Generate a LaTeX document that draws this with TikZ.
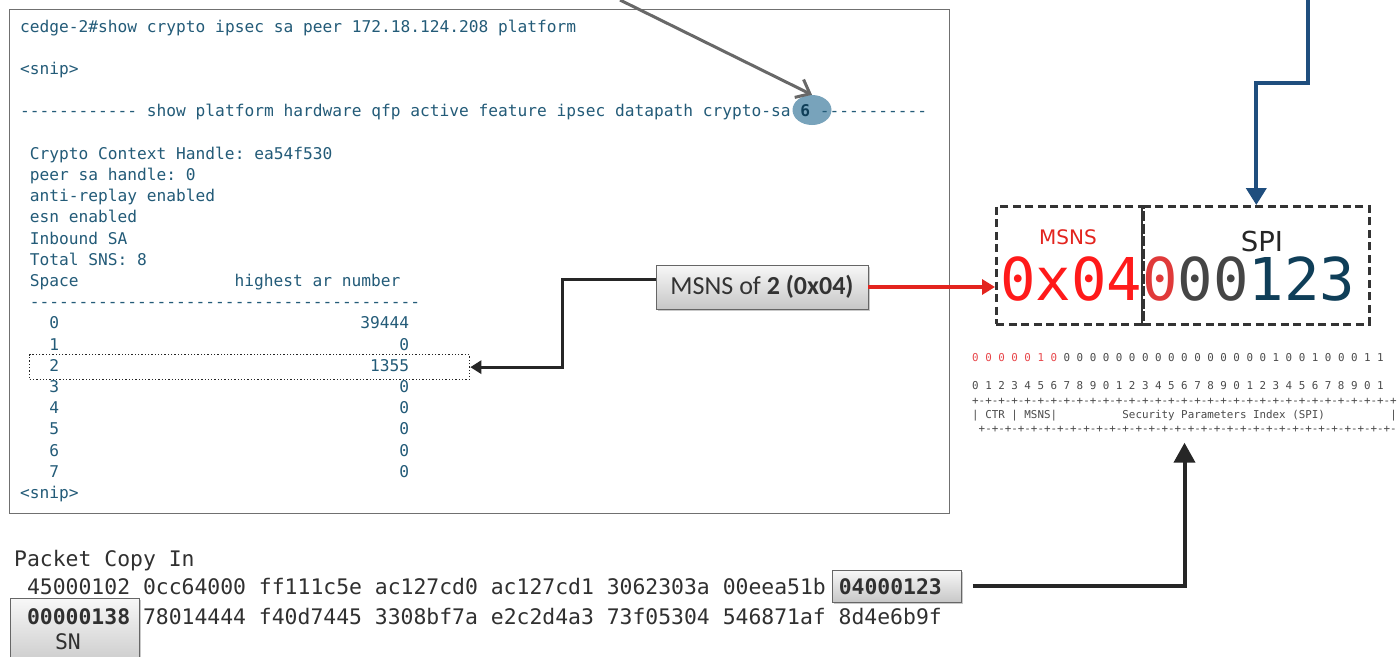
\documentclass[tikz,border=0pt]{standalone}
\usepackage{fontspec}
\setmonofont{DejaVu Sans Mono}
\newfontfamily\calibrifont{Carlito}
\newfontfamily\dvsans{DejaVu Sans}
\usetikzlibrary{arrows.meta,shadows,shapes.geometric}

\definecolor{termtext}{HTML}{235B78}
\definecolor{termframe}{HTML}{707070}
\definecolor{hlfill}{HTML}{78A3BB}
\definecolor{ptrgray}{HTML}{686868}
\definecolor{ptrblue}{HTML}{1F4E7E}
\definecolor{ptrred}{HTML}{E3241E}
\definecolor{ptrblack}{HTML}{262626}
\definecolor{hexred}{HTML}{FF1A1A}
\definecolor{hexredb}{HTML}{E03A3A}
\definecolor{hexgray}{HTML}{454545}
\definecolor{hexnavy}{HTML}{0F3E58}
\definecolor{bitgray}{HTML}{4A4A4A}
\definecolor{bitred}{HTML}{E8464A}
\definecolor{pkttext}{HTML}{303030}

\tikzset{
  term/.style={anchor=base west, inner sep=0pt, text=termtext,
    font=\ttfamily\fontsize{16.2}{19}\selectfont},
  termr/.style={term, anchor=base east},
  bits/.style={anchor=base west, inner sep=0pt, text=bitgray,
    font=\ttfamily\fontsize{10.85}{13}\selectfont},
  pkt/.style={anchor=base west, inner sep=0pt, text=pkttext,
    font=\ttfamily\fontsize{21.4}{25}\selectfont},
  greybox/.style={draw=black!60, line width=0.8pt, top color=black!3, bottom color=black!22,
    drop shadow={shadow xshift=1.5pt, shadow yshift=-1.5pt, opacity=0.35, fill=black!60}},
  fieldbox/.style={draw=black!80, line width=2.6pt, dash pattern=on 8pt off 4.5pt,
    inner sep=0pt, anchor=north west, minimum height=118pt},
  ptr/.style={line width=3pt, ptrblack, -{Triangle[length=11pt,width=13pt]}},
}

\begin{document}
\begin{tikzpicture}[x=1pt,y=-1pt]
\useasboundingbox[fill=white] (0,0) rectangle (1400,656);

% console output frame
\node[draw=termframe, line width=1.4pt, minimum width=940pt, minimum height=504pt,
  anchor=north west, inner sep=0pt] (term) at (9,9) {};

% highlight behind the SA number
\node[ellipse, fill=hlfill, minimum width=39pt, minimum height=30pt, inner sep=0pt] (hl) at (812,110) {};

% console text
\node[term] (t0) at (20,32) {cedge-2\#show crypto ipsec sa peer 172.18.124.208 platform};
\node[term] (t2) at (20,74.4) {<snip>};
\node[term] (t4) at (20,116.8) {------------ show platform hardware qfp active feature ipsec datapath crypto-sa \textcolor{hexnavy}{\textbf{6}} -----------};
\node[term] (t6) at (29.75,159.2) {Crypto Context Handle: ea54f530};
\node[term] (t7) at (29.75,180.4) {peer sa handle: 0};
\node[term] (t8) at (29.75,201.6) {anti-replay enabled};
\node[term] (t9) at (29.75,222.8) {esn enabled};
\node[term] (t10) at (29.75,244) {Inbound SA};
\node[term] (t11) at (29.75,265.2) {Total SNS: 8};
\node[term] (t12a) at (29.75,286.4) {Space};
\node[term] (t12b) at (234.5,286.4) {highest ar number};
\node[term] (t13) at (29.75,307.6) {----------------------------------------};
\node[term] (s0) at (49.25,328.8) {0};  \node[termr] (v0) at (409.25,328.8) {39444};
\node[term] (s1) at (49.25,350)   {1};  \node[termr] (v1) at (409.25,350)   {0};
\node[term] (s2) at (49.25,371.2) {2};  \node[termr] (v2) at (409.25,371.2) {1355};
\node[term] (s3) at (49.25,392.4) {3};  \node[termr] (v3) at (409.25,392.4) {0};
\node[term] (s4) at (49.25,413.6) {4};  \node[termr] (v4) at (409.25,413.6) {0};
\node[term] (s5) at (49.25,434.8) {5};  \node[termr] (v5) at (409.25,434.8) {0};
\node[term] (s6) at (49.25,456)   {6};  \node[termr] (v6) at (409.25,456)   {0};
\node[term] (s7) at (49.25,477.2) {7};  \node[termr] (v7) at (409.25,477.2) {0};
\node[term] (t22) at (20,498.4) {<snip>};

% dotted frame round the space-2 row
\node[draw=ptrblack, dotted, line width=1.3pt, minimum width=440pt, minimum height=25pt,
  anchor=north west, inner sep=0pt] (rowbox) at (29,354) {};

% pointer coming in from above to the SA number
\coordinate (gtop) at (620,0);
\draw[line width=3pt, ptrgray, -{Straight Barb[length=12pt,width=20pt]}] (gtop) -- (hl.north);

% label box
\node[greybox, minimum width=212pt, minimum height=44pt, inner sep=0pt,
  font=\calibrifont\fontsize{26}{30}\selectfont, text=black!80] (msnslbl) at (762,287)
  {MSNS of \textbf{2 (0x04)}};

% SPI value boxes
\node[fieldbox, minimum width=147pt] (msnsbox) at (995,205) {};
\node[fieldbox, minimum width=226pt] (spibox) at (1142,205) {};
\draw[line width=2pt, black!80] (spibox.north west) -- (spibox.south west);

\node[font=\dvsans\fontsize{20}{24}\selectfont, text=ptrred, anchor=base, inner sep=0pt] (msnsname) at (1068,244) {MSNS};
\node[font=\dvsans\fontsize{27.5}{30}\selectfont, text=black!85, anchor=base, inner sep=0pt] (spiname) at (1262,251) {SPI};
\node[anchor=base west, inner sep=0pt, font=\ttfamily\fontsize{59}{64}\selectfont] (hexval) at (1000,300)
  {\textcolor{hexred}{0x04}\textcolor{hexredb}{0}\textcolor{hexgray}{00}\textcolor{hexnavy}{123}};

% connectors from the label
\draw[ptr] ([yshift=8pt]msnslbl.west) -- ++(-93,0) |- (rowbox.east);
\draw[line width=3.2pt, ptrred, -{Triangle[length=13pt,width=15pt]}] (msnslbl.east) -- (msnslbl.east -| msnsbox.west);

% pointer coming in from above to the SPI box
\coordinate (btop) at (1308,0);
\draw[line width=4pt, ptrblue, -{Triangle[length=17pt,width=20pt]}] (btop) -- ++(0,83) -| (spibox.north);

% bit layout
\node[bits] (bitrow) at (972,361) {\textcolor{bitred}{0 0 0 0 0 1 0} 0 0 0 0 0 0 0 0 0 0 0 0 0 0 0 0 1 0 0 1 0 0 0 1 1};
\node[bits] (idxrow) at (972,389) {0 1 2 3 4 5 6 7 8 9 0 1 2 3 4 5 6 7 8 9 0 1 2 3 4 5 6 7 8 9 0 1};
\node[bits] (rowa) at (972,404.5) {+-+-+-+-+-+-+-+-+-+-+-+-+-+-+-+-+-+-+-+-+-+-+-+-+-+-+-+-+-+-+-+-+};
\node[bits] (fields) at (972,418.5) {| CTR | MSNS|~~~~~~~~~~Security Parameters Index (SPI)~~~~~~~~~~|};
\node[bits] (rowb) at (972,432.5) {~+-+-+-+-+-+-+-+-+-+-+-+-+-+-+-+-+-+-+-+-+-+-+-+-+-+-+-+-+-+-+-+-};

% packet dump
\node[greybox, minimum width=129pt, minimum height=32pt, inner sep=0pt, anchor=north west] (spihl) at (832,570) {};
\node[greybox, minimum width=129pt, minimum height=72pt, inner sep=0pt, anchor=north west] (snbox) at (10,598) {};
\node[pkt] (pkthead) at (14,566) {Packet Copy In};
\node[pkt] (pktl1) at (14,594) {~45000102 0cc64000 ff111c5e ac127cd0 ac127cd1 3062303a 00eea51b \textbf{04000123}};
\node[pkt] (pktl2) at (14,624) {~\textbf{00000138} 78014444 f40d7445 3308bf7a e2c2d4a3 73f05304 546871af 8d4e6b9f};
\node[pkt, anchor=base] (snlbl) at (68,649) {SN};

\draw[line width=4pt, ptrblack, -{Triangle[length=20pt,width=21pt]}, shorten <=11pt, shorten >=10pt]
  (spihl.east) -| (rowb.south);
\end{tikzpicture}
\end{document}
